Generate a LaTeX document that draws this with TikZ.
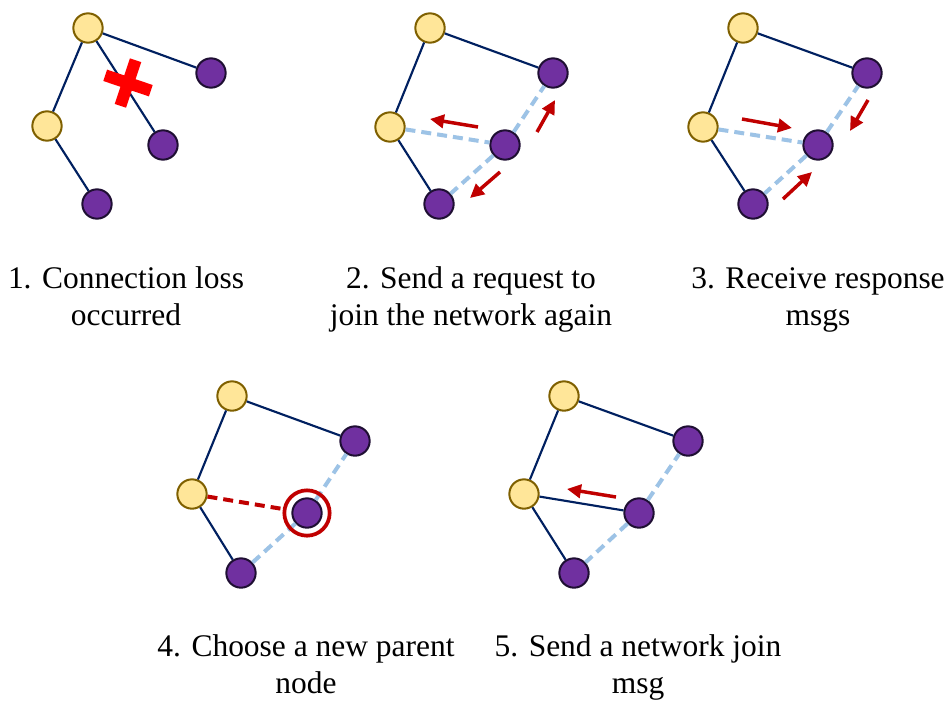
\documentclass[tikz,border=0pt]{standalone}
\usepackage{fontspec}
\setmainfont{Liberation Serif}
\usetikzlibrary{arrows.meta}
\definecolor{ylw}{HTML}{FFE699}
\definecolor{ylwb}{HTML}{7F6000}
\definecolor{prp}{HTML}{7030A0}
\definecolor{prpb}{HTML}{1F0F33}
\definecolor{navy}{HTML}{002060}
\definecolor{lblue}{HTML}{9DC3E6}
\definecolor{dred}{HTML}{C00000}
\definecolor{bred}{HTML}{FF0000}
\begin{document}
\begin{tikzpicture}[x=0.75pt,y=-0.75pt,
 yn/.style={circle,draw=ylwb,fill=ylw,line width=1.5pt,minimum size=22pt,inner sep=0pt},
 pn/.style={circle,draw=prpb,fill=prp,line width=1.5pt,minimum size=22pt,inner sep=0pt},
 link/.style={draw=navy,line width=1.6pt},
 dlink/.style={draw=lblue,line width=3pt,dash pattern=on 7.5pt off 4.5pt},
 rdlink/.style={draw=dred,line width=3pt,dash pattern=on 7.5pt off 4.5pt},
 ring/.style={circle,draw=dred,line width=2.8pt,minimum size=34pt,inner sep=0pt},
 msg/.style={draw=dred,line width=2.6pt,-{Triangle[length=10.5pt,width=10pt]}},
 xbar/.style={draw=bred,line width=9pt},
 lbl/.style={align=center,anchor=base,font=\fontsize{23.6}{27.75}\selectfont}]
\fill[white] (0,0) rectangle (949,700);
\useasboundingbox (0,0) rectangle (949,700);

% ---------- Panel 1 ----------
\node[yn] (a1) at (88,28) {};
\node[yn] (b1) at (47,126) {};
\node[pn] (c1) at (211,73) {};
\node[pn] (d1) at (163,145) {};
\node[pn] (e1) at (97,204) {};
\draw[link] (a1) -- (b1);
\draw[link] (a1) -- (c1);
\draw[link] (a1) -- (d1);
\draw[link] (b1) -- (e1);
\coordinate (x1a) at (105.2,75.3);
\coordinate (x1b) at (150.8,90.7);
\coordinate (x1c) at (120.4,105.8);
\coordinate (x1d) at (135.6,60.2);
\draw[xbar] (x1a) -- (x1b);
\draw[xbar] (x1c) -- (x1d);

% ---------- Panel 2 ----------
\node[yn] (a2) at (430,28) {};
\node[yn] (b2) at (390,127) {};
\node[pn] (c2) at (553,73) {};
\node[pn] (d2) at (505,145) {};
\node[pn] (e2) at (439,204) {};
\draw[link] (a2) -- (b2);
\draw[link] (a2) -- (c2);
\draw[link] (b2) -- (e2);
\draw[dlink] (b2) -- (d2);
\draw[dlink] (d2) -- (c2);
\draw[dlink] (d2) -- (e2);
\coordinate (m2as) at (478,127); \coordinate (m2ae) at (430,119);
\coordinate (m2bs) at (537,132); \coordinate (m2be) at (555,100);
\coordinate (m2cs) at (500,172); \coordinate (m2ce) at (470,198);
\draw[msg] (m2as) -- (m2ae);
\draw[msg] (m2bs) -- (m2be);
\draw[msg] (m2cs) -- (m2ce);

% ---------- Panel 3 ----------
\node[yn] (a3) at (743,28) {};
\node[yn] (b3) at (703,127) {};
\node[pn] (c3) at (867,73) {};
\node[pn] (d3) at (818,145) {};
\node[pn] (e3) at (753,204) {};
\draw[link] (a3) -- (b3);
\draw[link] (a3) -- (c3);
\draw[link] (b3) -- (e3);
\draw[dlink] (b3) -- (d3);
\draw[dlink] (d3) -- (c3);
\draw[dlink] (d3) -- (e3);
\coordinate (m3as) at (742,119); \coordinate (m3ae) at (792,128);
\coordinate (m3bs) at (868,100); \coordinate (m3be) at (850,131);
\coordinate (m3cs) at (783,199); \coordinate (m3ce) at (812,172);
\draw[msg] (m3as) -- (m3ae);
\draw[msg] (m3bs) -- (m3be);
\draw[msg] (m3cs) -- (m3ce);

% ---------- Panel 4 ----------
\node[yn] (a4) at (232,396) {};
\node[yn] (b4) at (192,494) {};
\node[pn] (c4) at (355,441) {};
\node[pn] (d4) at (307,513) {};
\node[pn] (e4) at (241,573) {};
\draw[link] (a4) -- (b4);
\draw[link] (a4) -- (c4);
\draw[link] (b4) -- (e4);
\draw[dlink] (d4) -- (c4);
\draw[dlink] (d4) -- (e4);
\node[ring] (r4) at (d4) {};
\draw[rdlink] (b4) -- (r4);

% ---------- Panel 5 ----------
\node[yn] (a5) at (564,396) {};
\node[yn] (b5) at (524,494) {};
\node[pn] (c5) at (688,441) {};
\node[pn] (d5) at (639,513) {};
\node[pn] (e5) at (574,573) {};
\draw[link] (a5) -- (b5);
\draw[link] (a5) -- (c5);
\draw[link] (b5) -- (e5);
\draw[link] (b5) -- (d5);
\draw[dlink] (d5) -- (c5);
\draw[dlink] (d5) -- (e5);
\coordinate (m5as) at (616,497); \coordinate (m5ae) at (567,489);
\draw[msg] (m5as) -- (m5ae);

% ---------- Labels (anchor = baseline of the last line) ----------
\node[lbl] (t1) at (126,325) {1. Connection loss\\occurred};
\node[lbl] (t2) at (471,325) {2. Send a request to\\join the network again};
\node[lbl] (t3) at (818,325) {3. Receive response\\msgs};
\node[lbl] (t4) at (306,693) {4. Choose a new parent\\node};
\node[lbl] (t5) at (638,693) {5. Send a network join\\msg};
\end{tikzpicture}
\end{document}
